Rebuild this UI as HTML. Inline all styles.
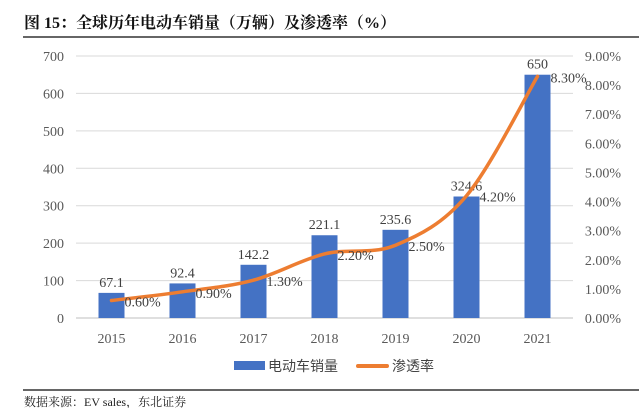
<!DOCTYPE html><html><head><meta charset="utf-8"><style>
body{margin:0;background:#fff;width:639px;height:408px;overflow:hidden;font-family:"Liberation Serif","Noto Serif CJK SC",serif}
svg text{font-family:"Liberation Serif","Noto Serif CJK SC",serif}
</style></head><body>
<svg width="639" height="408">
<text x="24" y="28" font-size="16" font-weight="bold" fill="#111">图 15：全球历年电动车销量（万辆）及渗透率（%）</text>
<line x1="23" y1="37" x2="639" y2="37" stroke="#333" stroke-width="1.5"/>
<g id="g"></g>
<g>
<rect x="234" y="361" width="31" height="9" fill="#4472C4"/>
<text x="268" y="371" font-size="14" fill="#444" style="font-family:'Noto Sans CJK SC',sans-serif">电动车销量</text>
<line x1="358" y1="366" x2="387" y2="366" stroke="#ED7D31" stroke-width="4" stroke-linecap="round"/>
<text x="392" y="371" font-size="14" fill="#444" style="font-family:'Noto Sans CJK SC',sans-serif">渗透率</text>
</g>
<line x1="23" y1="390" x2="639" y2="390" stroke="#333" stroke-width="1.5"/>
<text x="24" y="406" font-size="12" fill="#222">数据来源：EV sales，东北证券</text>
</svg>
<script>
const categories=["2015","2016","2017","2018","2019","2020","2021"];
const sales=[67.1,92.4,142.2,221.1,235.6,324.6,650];
const salesLabels=["67.1","92.4","142.2","221.1","235.6","324.6","650"];
const penetration=[0.6,0.9,1.3,2.2,2.5,4.2,8.3];
const penLabels=["0.60%","0.90%","1.30%","2.20%","2.50%","4.20%","8.30%"];
const leftTicks=[0,100,200,300,400,500,600,700];
const rightTicks=[0,1,2,3,4,5,6,7,8,9];
const NS="http://www.w3.org/2000/svg",g=document.getElementById('g');
const x0=76,x1=573,yTop=56,yBot=318;
const step=(x1-x0)/categories.length;
const xc=i=>x0+step*(i+0.5);
const yL=v=>yBot-(v/700)*(yBot-yTop);
const yR=v=>yBot-(v/9)*(yBot-yTop);
function mk(t,a,txt){const e=document.createElementNS(NS,t);for(const k in a)e.setAttribute(k,a[k]);if(txt!=null)e.textContent=txt;g.appendChild(e);return e;}
leftTicks.forEach(v=>{
 const l=mk('line',{x1:x0,x2:x1,y1:yL(v),y2:yL(v),stroke:v?'#d9d9d9':'#bfbfbf','stroke-width':1});
 
 
 const t=mk('text',{x:64,y:yL(v)+5,'font-size':14,fill:'#595959','text-anchor':'end'},String(v));
 
 
});
rightTicks.forEach(v=>{
 const t=mk('text',{x:621,y:yR(v)+5,'font-size':14,fill:'#595959','text-anchor':'end'},v.toFixed(2)+'%');
 
 
});
categories.forEach((c,i)=>{
 const b=mk('rect',{x:xc(i)-13,y:yL(sales[i]),width:26,height:yBot-yL(sales[i]),fill:'#4472C4'});
 
 
 const t=mk('text',{x:xc(i),y:yL(sales[i])-6,'font-size':14,fill:'#404040','text-anchor':'middle'},salesLabels[i]);
 
 
 const xl=mk('text',{x:xc(i),y:343,'font-size':14,fill:'#595959','text-anchor':'middle'},c);
 
 
});
const pts=penetration.map((v,i)=>[xc(i),yR(v)]);
let d='M'+pts[0][0]+','+pts[0][1];
for(let i=0;i<pts.length-1;i++){
 const p0=pts[i-1]||pts[i],p1=pts[i],p2=pts[i+1],p3=pts[i+2]||p2,k=6;
 d+=` C${p1[0]+(p2[0]-p0[0])/k},${p1[1]+(p2[1]-p0[1])/k} ${p2[0]-(p3[0]-p1[0])/k},${p2[1]-(p3[1]-p1[1])/k} ${p2[0]},${p2[1]}`;
}
const ln=mk('path',{d:d,fill:'none',stroke:'#ED7D31','stroke-width':3.5,'stroke-linecap':'round'});


penetration.forEach((v,i)=>{
 const t=mk('text',{x:xc(i)+13,y:yR(v)+6,'font-size':14,fill:'#404040'},penLabels[i]);
 
 
});
</script>
</body></html>
